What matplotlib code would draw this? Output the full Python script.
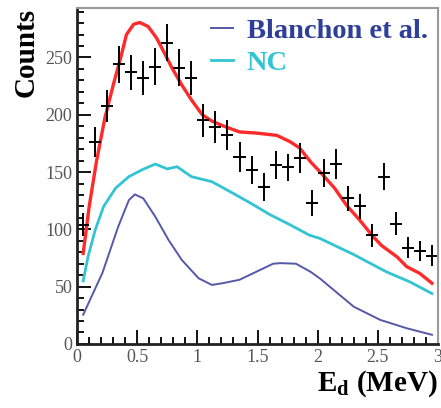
import numpy as np
import matplotlib
matplotlib.use("Agg")
import matplotlib.pyplot as plt
from matplotlib.ticker import MultipleLocator

plt.rcParams['font.family'] = ['Liberation Serif', 'DejaVu Serif']
plt.rcParams['mathtext.fontset'] = 'custom'
plt.rcParams['mathtext.rm'] = 'Liberation Serif'
plt.rcParams['mathtext.bf'] = 'Liberation Serif:bold'

# measured spectrum (bin centres, counts, errors)
data_x = [0.05, 0.15, 0.25, 0.35, 0.45, 0.55, 0.65, 0.75, 0.85, 0.95,
          1.05, 1.15, 1.25, 1.35, 1.45, 1.55, 1.65, 1.75, 1.85, 1.95,
          2.05, 2.15, 2.25, 2.35, 2.45, 2.55, 2.65, 2.75, 2.85, 2.95]
data_y = [104, 176, 208, 244, 237, 232, 242, 263, 241, 232,
          195, 189, 182, 163, 152, 137, 156, 154, 162, 123,
          149, 157, 127, 120, 95, 146, 105, 84, 81, 77]
data_err = [10, 13, 14, 16, 15, 15, 16, 16, 16, 15,
            14, 14, 13, 13, 12, 12, 12, 12, 13, 11,
            12, 13, 11, 11, 10, 12, 10, 9, 9, 9]

# total fit (red)
red_x = [0.05, 0.10, 0.16, 0.23, 0.30, 0.36, 0.41, 0.47, 0.52, 0.59, 0.66,
         0.72, 0.79, 0.87, 0.95, 1.04, 1.12, 1.22, 1.35, 1.49, 1.66, 1.77,
         1.85, 1.94, 2.03, 2.14, 2.24, 2.35, 2.45, 2.53, 2.66, 2.74, 2.85, 2.95]
red_y = [79, 120, 159, 197, 226, 249, 270, 279, 280.5, 277, 267,
         255, 240.5, 226, 213, 200, 194.5, 190, 185, 184, 182, 176.5,
         171, 159, 149, 136, 121, 108, 95, 86, 76, 67.5, 61.5, 53]

# NC (cyan)
nc_x = [0.05, 0.09, 0.15, 0.22, 0.32, 0.43, 0.54, 0.65, 0.75, 0.83, 0.95,
        1.12, 1.27, 1.44, 1.60, 1.77, 1.93, 2.02, 2.30, 2.57, 2.77, 2.95]
nc_y = [55, 76, 99.5, 120, 136, 146, 152, 157, 152.7, 154.7, 146,
        141.6, 133, 123, 113, 104, 95, 92, 78, 63, 54, 44]

# Blanchon et al. (blue)
bl_x = [0.05, 0.21, 0.34, 0.43, 0.48, 0.55, 0.65, 0.76, 0.87, 1.01, 1.12,
        1.21, 1.35, 1.49, 1.63, 1.69, 1.82, 1.94, 2.02, 2.30, 2.52, 2.74, 2.95]
bl_y = [25.5, 62, 102, 125.5, 130.5, 127, 111, 90.7, 73.3, 57.3, 51.5,
        53, 56, 63, 70, 70.5, 70, 63, 57, 32.5, 21, 13.7, 8]

fig = plt.figure(figsize=(4.41, 4.08), dpi=100)
ax = fig.add_axes([0.175, 0.157, 0.818, 0.823])

ax.plot(bl_x, bl_y, color='#5558a8', lw=1.4, solid_joinstyle='round',
        label='Blanchon et al.')
ax.plot(nc_x, nc_y, color='#33c4d4', lw=2.0, solid_joinstyle='round',
        label='NC')
ax.plot(red_x, red_y, color='#ff2a2a', lw=2.4, solid_joinstyle='round')
ax.errorbar(data_x, data_y, yerr=data_err, xerr=0.05, fmt='none',
            ecolor='black', elinewidth=1.4, capsize=0)

ax.set_xlim(0, 3)
ax.set_ylim(0, 293)
ax.xaxis.set_major_locator(MultipleLocator(0.5))
ax.xaxis.set_minor_locator(MultipleLocator(0.1))
ax.yaxis.set_major_locator(MultipleLocator(50))
ax.yaxis.set_minor_locator(MultipleLocator(10))
ax.set_xticks([0, 0.5, 1, 1.5, 2, 2.5, 3])
ax.set_xticklabels(['0', '0.5', '1', '1.5', '2', '2.5', '3'])
ax.tick_params(which='both', direction='in', top=False, right=False,
               labelsize=13, labelcolor='#555555', width=1.3)
ax.tick_params(which='major', length=10)
ax.tick_params(which='minor', length=5)

for s in ['left', 'bottom']:
    ax.spines[s].set_linewidth(2)
    ax.spines[s].set_color('#222222')
for s in ['top', 'right']:
    ax.spines[s].set_linewidth(1.5)
    ax.spines[s].set_color('#999999')

ax.set_ylabel('Counts', fontsize=21, fontweight='bold', loc='top', labelpad=4)
ax.set_xlabel(r'$\mathbf{E}_{\mathbf{d}}$ (MeV)', fontsize=21,
              fontweight='bold', loc='right', labelpad=2)

leg = ax.legend(loc='upper right', frameon=False, handlelength=0.75,
                handletextpad=0.5, labelspacing=0.2, borderaxespad=0.0,
                borderpad=0.35,
                prop={'family': 'Liberation Serif', 'weight': 'bold', 'size': 20.5})
for txt, col in zip(leg.get_texts(), ['#2e3f9a', '#33c4d4']):
    txt.set_color(col)

fig.savefig('out.png', dpi=100)
